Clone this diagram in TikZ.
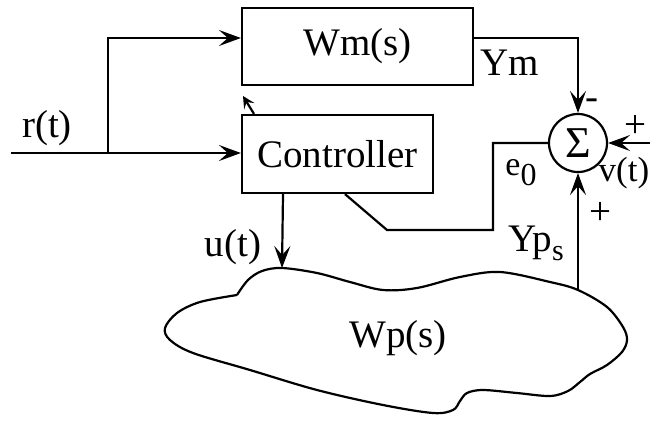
\documentclass[tikz,border=0pt]{standalone}
\usepackage{fontspec}
\setmainfont{Liberation Serif}
\usetikzlibrary{arrows.meta}

\begin{document}
\begin{tikzpicture}[x=1pt, y=-1pt,
  txt/.style={font=\fontsize{39}{42}\selectfont},
  blk/.style={draw, line width=2pt, txt},
  wire/.style={line width=2.2pt},
  sig/.style={wire, -{Stealth[length=22pt,width=16pt,inset=9pt]}},
  tiny/.style={wire, -{Stealth[length=12pt,width=12pt,inset=5pt]}},
  lbl/.style={txt, inner sep=0pt}]
\useasboundingbox (0,0) rectangle (650,421);

% blocks
\node[blk, line width=2.2pt, minimum width=231pt, minimum height=77pt] (wm) at (357.5,46.5) {Wm(s)};
\node[blk, line width=2.2pt, minimum width=191pt, minimum height=78pt] (ctrl) at (337.5,154) {Controller};
\node[draw, circle, line width=2.2pt, minimum size=58pt, inner sep=0pt,
      font=\fontsize{44}{44}\selectfont] (sum) at (578,143) {Σ};

% plant: cloud outline
\coordinate (ptop) at (282,268);
\coordinate (pout) at (578,290);
\draw[wire, line join=round] plot[smooth, tension=0.55] coordinates {
  (237,295) (248,280) (262,271) (ptop) (317,273) (350,282) (383,290)
  (417,288) (460,277) (500,272) (550,282) (pout) (607,307) (623,327)
  (627,340) (622,352) (607,365) (590,374) (580,382) (568,391)
  (550,396) (517,393) (483,390) (467,393) (460,401) (453,410)
  (433,413) (383,405) (317,390) (250,370) (193,353) (170,340)
  (165,328) (177,313) (200,302) (237,295)};
\node[lbl] (wp) at (398,338) {Wp(s)};

% junction points
\coordinate (rin) at (11,153);
\coordinate (split) at (108,153);
\coordinate (up) at (108,38);
\coordinate (vin) at (650,143);
\coordinate (e1) at (493,143);
\coordinate (e2) at (493,230);
\coordinate (e3) at (387,230);
\coordinate (e4) at (345,193);
\coordinate (ua) at (283,193);
\coordinate (tb) at (254,115);
\coordinate (tt) at (243,96);

% connectors
\draw[sig] (rin) -- (ctrl.west |- rin);
\draw[sig] (split) -- (up) -- (wm.west |- up);
\draw[sig] (wm.east |- up) -- (sum.north |- up) -- (sum.north);
\draw[sig] (vin) -- (sum.east);
\draw[sig] (pout) -- (sum.south);
\draw[sig] (ctrl.south -| ua) -- (ptop);
\draw[wire] (sum.west) -- (e1) -- (e2) -- (e3) -- (ctrl.south -| e4);
\draw[tiny] (ctrl.north -| tb) -- (tt);

% labels
\node[lbl] (lr) at (47,128) {r(t)};
\node[lbl] (lym) at (510,63) {Ym};
\node[lbl] (lminus) at (592,104) {-};
\node[lbl] (lplus1) at (635,126) {+};
\node[lbl, font=\fontsize{35}{38}\selectfont] (lv) at (624,173) {v(t)};
\node[lbl, font=\fontsize{34}{36}\selectfont] (le) at (521,173) {e\raisebox{-10pt}{\fontsize{32}{32}\selectfont 0}};
\node[lbl] (lplus2) at (600,213) {+};
\node[lbl] (lyp) at (536,243) {Yp\raisebox{-9pt}{\fontsize{30}{30}\selectfont s}};
\node[lbl] (lu) at (233,247) {u(t)};
\end{tikzpicture}
\end{document}
